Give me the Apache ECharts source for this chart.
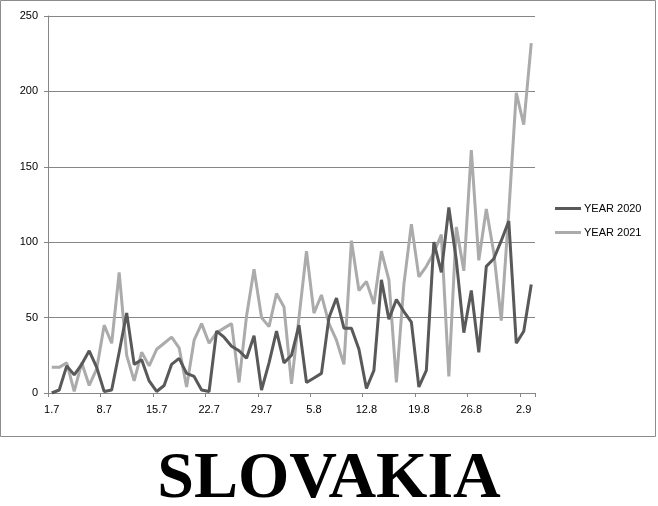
<!DOCTYPE html>
<html>
<head>
<meta charset="utf-8">
<script src="https://cdn.jsdelivr.net/npm/echarts@6/dist/echarts.min.js"></script>
<style>
html,body{margin:0;padding:0;background:#fff;}
#chart{width:658px;height:506px;}
</style>
</head>
<body>
<div id="chart"></div>
<script>
// Dates 1.7 .. 3.9 (daily)
const categories = (function(){
  const out = [];
  const months = [[7,31],[8,31],[9,3]];
  for (const [m, n] of months) for (let d = 1; d <= n; d++) out.push(d + '.' + m);
  return out;
})();

const year2020 = [0,2,18,12,19,28,17,1,2,27,53,19,22,8,1,5,19,23,13,11,2,1,41,37,31,28,23,38,2,20,41,20,25,45,7,10,13,50,63,43,43,29,3,15,75,49,62,54,47,4,15,100,80,123,88,40,68,27,84,89,101,114,33,41,72];
const year2021 = [17,17,20,1,20,5,16,45,33,80,25,8,27,18,29,33,37,30,4,35,46,33,40,43,46,7,51,82,50,44,66,57,6,50,94,53,65,46,35,19,101,68,74,59,94,75,7,72,112,77,84,93,105,11,110,81,161,88,122,93,48,120,199,178,232];

const yTicks = [0,50,100,150,200,250];
const seriesNames = ['YEAR 2020','YEAR 2021'];
const title = 'SLOVAKIA';

const chart = echarts.init(document.getElementById('chart'), null, {renderer:'canvas'});
chart.setOption({
  animation:false,
  backgroundColor:'#fff',
  title:{
    text:title, left:'center', top:442,
    textStyle:{fontFamily:'Liberation Serif', fontWeight:'bold', fontSize:66, color:'#000'}
  },
  graphic:[{
    type:'rect', shape:{x:0.5,y:0.5,width:655,height:436},
    style:{fill:'none', stroke:'#8c8c8c', lineWidth:1}, silent:true
  }],
  legend:{
    orient:'vertical', left:555, top:203, itemGap:13, padding:0,
    icon:'rect', itemWidth:26, itemHeight:3,
    textStyle:{fontFamily:'Liberation Sans', fontSize:11, color:'#000', padding:[0,0,0,-2]},
    data:seriesNames
  },
  grid:{left:48, top:16, width:487, height:377, containLabel:false},
  xAxis:{
    type:'category', data:categories, boundaryGap:true,
    axisLine:{lineStyle:{color:'#868686', width:1}},
    axisTick:{show:true, length:4, interval:function(i){return i%7===0;}, lineStyle:{color:'#868686'}},
    axisLabel:{interval:function(i){return i%7===0;}, color:'#000', fontFamily:'Liberation Sans', fontSize:11, margin:11}
  },
  yAxis:{
    type:'value', min:yTicks[0], max:yTicks[yTicks.length-1], interval:50,
    axisLine:{show:true, lineStyle:{color:'#868686'}},
    axisTick:{show:true, length:4, lineStyle:{color:'#868686'}},
    axisLabel:{color:'#000', fontFamily:'Liberation Sans', fontSize:11, margin:10},
    splitLine:{show:true, lineStyle:{color:'#868686', width:1}}
  },
  series:[
    {name:seriesNames[0], type:'line', data:year2020, symbol:'none', z:3,
     lineStyle:{color:'#595959', width:3}, itemStyle:{color:'#595959'}},
    {name:seriesNames[1], type:'line', data:year2021, symbol:'none', z:2,
     lineStyle:{color:'#ababab', width:3}, itemStyle:{color:'#ababab'}}
  ]
});
</script>
</body>
</html>
